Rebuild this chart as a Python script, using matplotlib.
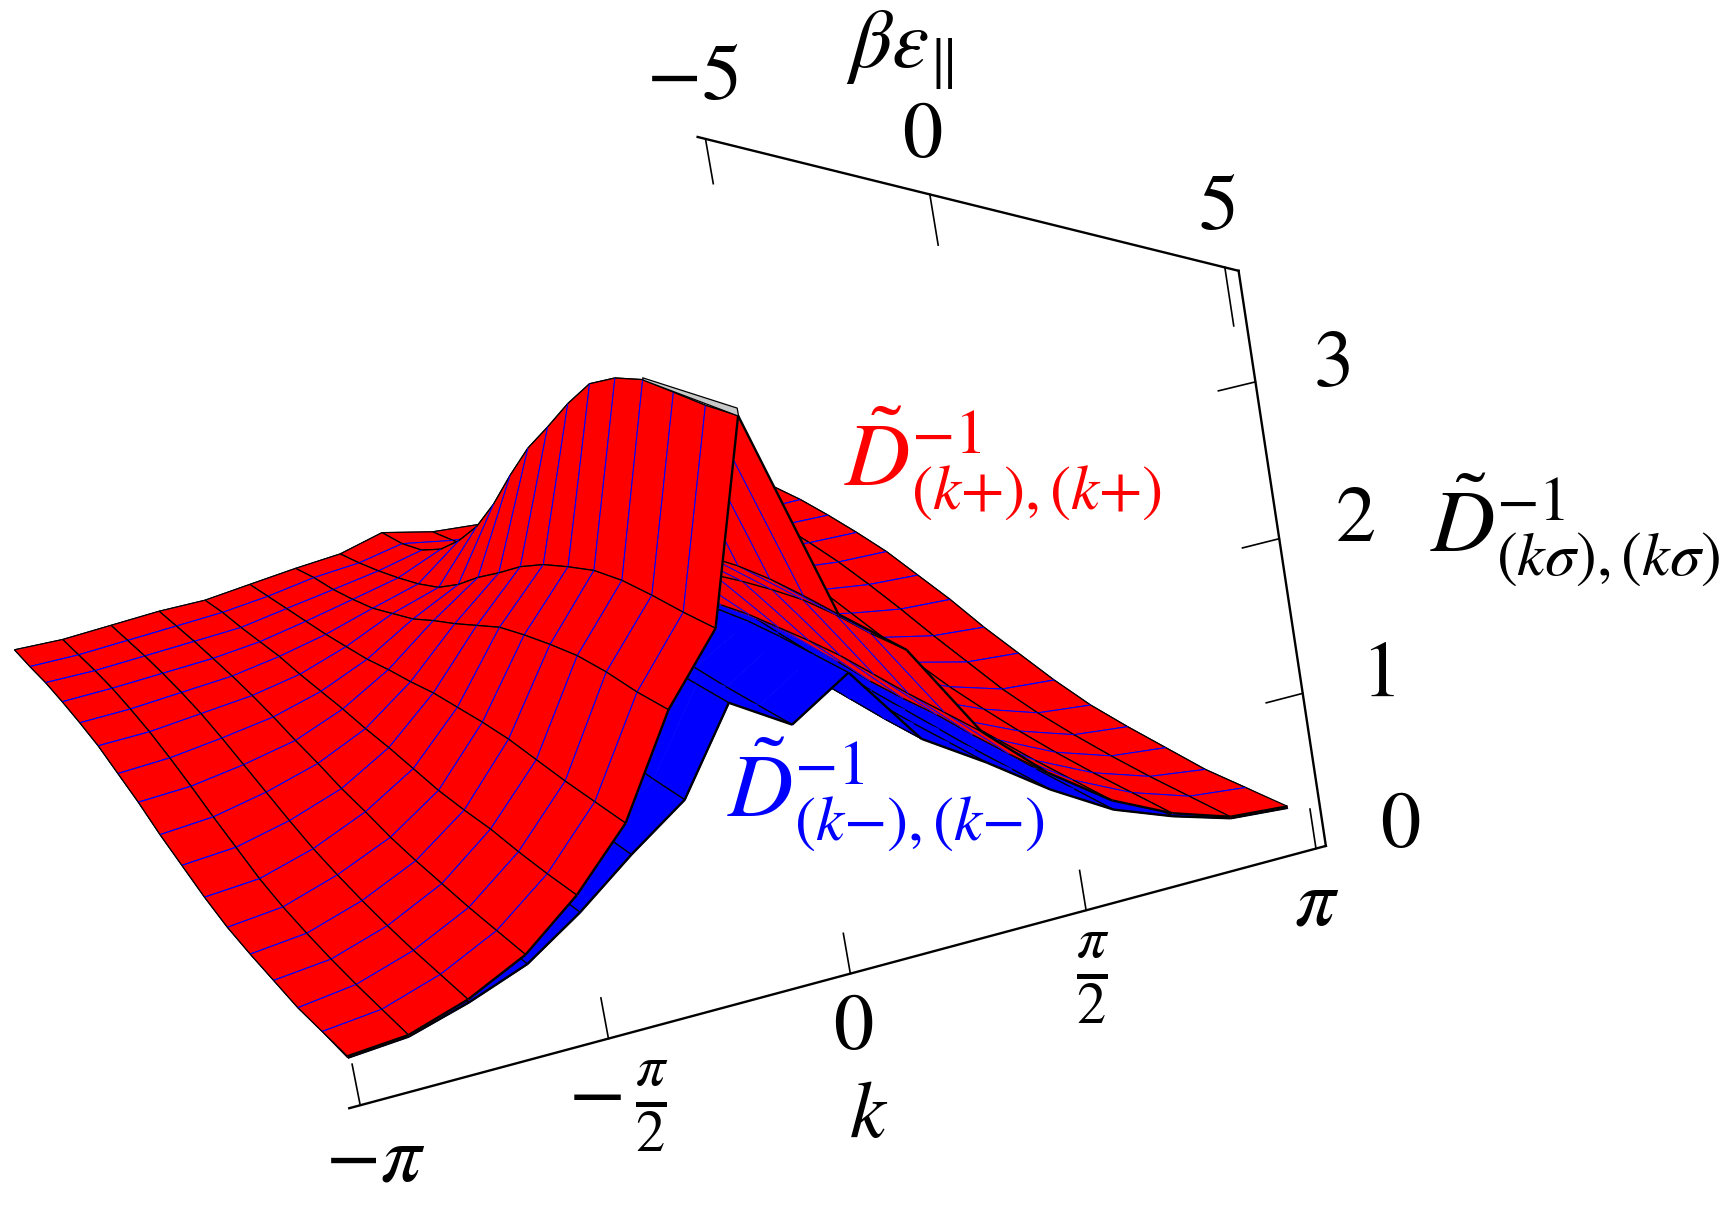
import numpy as np
import matplotlib
matplotlib.use('Agg')
import matplotlib.pyplot as plt
from mpl_toolkits.mplot3d import proj3d
from mpl_toolkits.mplot3d.art3d import Poly3DCollection, Line3DCollection

plt.rcParams['mathtext.fontset'] = 'stix'
plt.rcParams['font.family'] = ['Liberation Serif', 'DejaVu Serif']

# mesh of the two surfaces
K_GRID = [-3.12, -2.73, -2.33, -1.93, -1.55, -1.17, -0.78, -0.40, -0.03,
          0.38, 0.77, 1.16, 1.54, 1.93, 2.31, 2.69, 3.08]
EPS_GRID = [-5, -4.375, -3.75, -3.125, -2.5, -1.875, -1.25, -0.625, 0,
            0.625, 1.25, 1.875, 2.5, 3.125, 3.75, 4.375, 5]

# one row per k from -pi to 0, one value per EPS_GRID entry; nearly even in k
RED_HALF = [
    [.93, .91, .90, .87, .83, .78, .70, .62, .52, .44, .36, .30, .27, .25, .23, .24, .25],
    [.92, .91, .90, .88, .84, .79, .72, .64, .55, .47, .39, .34, .31, .29, .28, .28, .28],
    [.94, .93, .92, .90, .87, .83, .77, .70, .63, .56, .50, .46, .43, .41, .40, .40, .40],
    [.96, .95, .94, .92, .90, .87, .83, .78, .74, .69, .66, .62, .60, .59, .58, .58, .58],
    [.96, .97, .96, .96, .96, .94, .93, .92, .90, .89, .87, .85, .85, .86, .85, .85, .86],
    [1.00, 1.01, 1.02, 1.03, 1.04, 1.06, 1.08, 1.12, 1.15, 1.19, 1.21, 1.23, 1.24, 1.23, 1.22, 1.22, 1.22],
    [1.04, 1.07, 1.08, 1.11, 1.15, 1.22, 1.29, 1.39, 1.48, 1.58, 1.68, 1.74, 1.79, 1.83, 1.84, 1.83, 1.84],
    [1.07, 1.10, 1.14, 1.19, 1.25, 1.33, 1.46, 1.62, 1.76, 1.91, 2.03, 2.12, 2.20, 2.24, 2.25, 2.25, 2.26],
    [1.16, 1.17, 1.22, 1.33, 1.50, 1.71, 1.98, 2.29, 2.58, 2.82, 3.07, 3.29, 3.41, 3.48, 3.48, 3.48, 3.50],
]
# the first row on the k > 0 side sits a little lower than its mirror
RED_K1 = [1.07, 1.10, 1.14, 1.19, 1.25, 1.33, 1.46, 1.60, 1.73, 1.86, 1.97, 2.05, 2.11, 2.15, 2.17, 2.17, 2.16]
BLUE_HALF = [
    [.93, .91, .90, .87, .83, .78, .70, .62, .52, .44, .36, .30, .27, .25, .23, .24, .24],
    [.92, .91, .90, .88, .84, .79, .72, .64, .55, .47, .39, .33, .30, .28, .27, .27, .27],
    [.94, .93, .92, .90, .87, .82, .76, .69, .61, .54, .47, .43, .40, .39, .38, .38, .38],
    [.96, .95, .94, .92, .89, .86, .81, .75, .70, .64, .60, .56, .54, .53, .52, .52, .52],
    [.96, .96, .95, .95, .94, .92, .90, .88, .85, .83, .80, .78, .77, .76, .75, .75, .75],
    [1.00, 1.00, 1.01, 1.02, 1.03, 1.04, 1.05, 1.06, 1.06, 1.06, 1.05, 1.04, 1.03, 1.03, 1.02, 1.02, 1.02],
    [1.04, 1.06, 1.07, 1.09, 1.12, 1.16, 1.20, 1.24, 1.27, 1.29, 1.30, 1.30, 1.30, 1.29, 1.28, 1.27, 1.27],
    [1.07, 1.09, 1.12, 1.16, 1.20, 1.26, 1.33, 1.42, 1.50, 1.59, 1.66, 1.72, 1.75, 1.78, 1.79, 1.79, 1.79],
    [1.16, 1.16, 1.18, 1.22, 1.28, 1.35, 1.42, 1.49, 1.54, 1.57, 1.58, 1.58, 1.57, 1.57, 1.56, 1.56, 1.56],
]

K_TICKS = [-np.pi, -np.pi / 2, 0, np.pi / 2, np.pi]
EPS_TICKS = [-5, 0, 5]
Z_TICKS = [1, 2, 3]
K_LIM = (-3.21, 3.21)
EPS_LIM = (5.2, -5.2)
Z_LIM = (0, 3.7)

W, H = 1731, 1208
fig = plt.figure(figsize=(W / 100, H / 100), dpi=100)
# square axes placed so that the fitted view lands on the reference box
side = 9622.6 * 0.185
left = 550.36 - side * 0.095 / 0.185
bottom = (H - 547.51) - side * 0.095 / 0.185
ax = fig.add_axes([left / W, bottom / H, side / W, side / H], projection='3d')
ax.set_axis_off()
ax.computed_zorder = False
ax.set_xlim(*K_LIM)
ax.set_ylim(*EPS_LIM)
ax.set_zlim(*Z_LIM)
ax.view_init(12.223, -104.602, 10.438)
ax.set_proj_type('persp', focal_length=0.5151)
ax.set_box_aspect((1, 1.6415, 0.5762))

K = np.array(K_GRID)
E = np.array(EPS_GRID)
red = np.array(RED_HALF)
blue = np.array(BLUE_HALF)
red = np.vstack([red, red[-2::-1]])
red[9] = RED_K1
blue = np.vstack([blue, blue[-2::-1]])

M = ax.get_proj()


def signed_area(quad):
    xs, ys, _ = proj3d.proj_transform(quad[:, 0], quad[:, 1], quad[:, 2], M)
    return 0.5 * np.sum(xs * np.roll(ys, -1) - np.roll(xs, -1) * ys)


def cell(Z, i, j):
    return np.array([[K[i], E[j], Z[i, j]], [K[i + 1], E[j], Z[i + 1, j]],
                     [K[i + 1], E[j + 1], Z[i + 1, j + 1]], [K[i], E[j + 1], Z[i, j + 1]]])


flat_sign = np.sign(signed_area(np.array([[K[0], E[0], 0], [K[1], E[0], 0], [K[1], E[1], 0], [K[0], E[1], 0]])))
zo = 10


def draw_cell(Z, color, i, j):
    global zo
    q = cell(Z, i, j)
    col = Poly3DCollection([q], facecolors=color, edgecolors=color, linewidths=0.3, zorder=zo)
    ax.add_collection3d(col, autolim=False)
    segs, cols, lws = [], [], []
    # lines of constant eps
    for jj, a, b in ((j, q[0], q[1]), (j + 1, q[3], q[2])):
        segs.append([a, b])
        if jj == 0 or jj == len(E) - 1:
            cols.append('black')
            lws.append(1.7 if jj == len(E) - 1 else 0.8)
        else:
            cols.append((0, 0, 1))
            lws.append(0.7)
    # lines of constant k
    for a, b in ((q[0], q[3]), (q[1], q[2])):
        segs.append([a, b])
        cols.append('black')
        lws.append(0.9)
    ax.add_collection3d(Line3DCollection(segs, colors=cols, linewidths=lws, zorder=zo + 0.5), autolim=False)
    zo += 1


# far to near: k falling, eps rising, with the camera off the low-k, high-eps corner
for i in range(len(K) - 2, -1, -1):
    for j in range(len(E) - 1):
        if np.sign(signed_area(cell(red, i, j))) == flat_sign:
            draw_cell(blue, (0, 0, 1), i, j)
            draw_cell(red, (1, 0, 0), i, j)
        else:
            draw_cell(red, (1, 0, 0), i, j)
            draw_cell(blue, (0, 0, 1), i, j)

# clipped top of the ridge
grey = [[-0.03, 3.125, 3.48], [-0.03, 5, 3.50], [-0.03, 5, 3.55], [-0.03, 3.125, 3.495]]
ax.add_collection3d(Poly3DCollection([grey], facecolors='#c8c8c8', edgecolors='black', linewidths=0.9, zorder=zo + 1), autolim=False)

# box edges and ticks
kmin, kmax = K_LIM
emax, emin = EPS_LIM
zmin, zmax = Z_LIM
ax.plot([kmin, kmax], [emax, emax], [zmin, zmin], color='black', lw=1.7, zorder=1)
ax.plot([kmax, kmax], [emax, emax], [zmin, zmax], color='black', lw=1.7, zorder=1)
ax.plot([kmax, kmax], [emin, emax], [zmax, zmax], color='black', lw=1.7, zorder=1)
for t in K_TICKS:
    ax.plot([t, t], [emax, emax], [zmin, zmin + 0.26], color='black', lw=1.2, zorder=1)
for t in EPS_TICKS:
    ax.plot([kmax, kmax], [t, t], [zmax, zmax - 0.37], color='black', lw=1.2, zorder=1)
for t in Z_TICKS:
    ax.plot([kmax, kmax - 0.25], [emax, emax], [t, t], color='black', lw=1.2, zorder=1)


def label(x, y, s, size, color='black'):
    fig.text(x / W, 1 - y / H, s, fontsize=size, color=color, ha='center', va='center')


NUM = 58
label(692, 80, r'$-5$', NUM)
label(922, 137, r'$0$', NUM)
label(1217, 209, r'$5$', NUM)
label(900, 50, r'$\beta\varepsilon\!_{\parallel}$', 60)
label(1331, 366, r'$3$', NUM)
label(1355, 522, r'$2$', NUM)
label(1378, 676, r'$1$', NUM)
label(1400, 827, r'$0$', NUM)
label(1317, 905, r'$\pi$', NUM)
label(1093, 978, r'$\frac{\pi}{2}$', 60)
label(853, 1029, r'$0$', NUM)
label(618, 1106, r'$-\,\frac{\pi}{2}$', 60)
label(375, 1161, r'$-\pi$', NUM)
label(869, 1117, r'$k$', NUM)
label(1575, 530, r'$\tilde{D}^{-1}_{(k\sigma),(k\sigma)}$', 64)
label(1003, 464, r'$\tilde{D}^{-1}_{(k{+}),(k{+})}$', 65, 'red')
label(886, 795, r'$\tilde{D}^{-1}_{(k{-}),(k{-})}$', 65, 'blue')

fig.savefig('out.png', dpi=100)
